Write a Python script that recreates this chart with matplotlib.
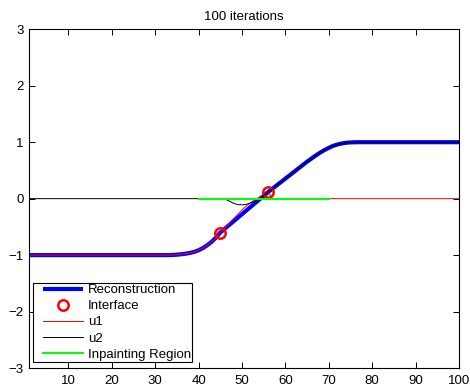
import numpy as np
import matplotlib
matplotlib.use("Agg")
import matplotlib.pyplot as plt
from matplotlib.lines import Line2D
from matplotlib.legend_handler import HandlerLine2D

plt.rcParams['font.family'] = ['Liberation Sans', 'DejaVu Sans']

# grid positions 1..100
x = np.arange(1, 101)

# reconstruction after 100 iterations
recon = np.array(
    [-1.0] * 33 +
    [-0.997, -0.993, -0.985, -0.975, -0.962, -0.943, -0.915, -0.875, -0.825,
     -0.765, -0.69, -0.6, -0.535, -0.47, -0.405, -0.34, -0.275, -0.21, -0.145,
     -0.08, -0.015, 0.05, 0.115, 0.175, 0.235, 0.295, 0.355, 0.415, 0.475,
     0.535, 0.595, 0.655, 0.71, 0.765, 0.815, 0.86, 0.9, 0.935, 0.96, 0.978,
     0.99, 0.996, 0.999] +
    [1.0] * 24
)

# left-side solution u1 (zero to the right of the interface)
u1 = np.concatenate([
    recon[:44],
    [-0.6, -0.52, -0.44, -0.36, -0.28, -0.2, -0.13, -0.07, -0.02, 0.025, 0.07, 0.115],
    np.zeros(44),
])

# right-side solution u2 (zero to the left of the interface)
u2 = np.concatenate([
    np.zeros(46),
    [-0.04, -0.08, -0.105, -0.11, -0.1, -0.075, -0.04, -0.01, 0.05],
    recon[55:],
])

# interface points
iface_x = [45, 56]
iface_y = [-0.6, 0.115]

# inpainting region
region_x = [40, 70]
region_y = [0, 0]

xticks = list(range(10, 101, 10))
yticks = list(range(-3, 4))

FS = 9.5

fig = plt.figure(figsize=(4.70, 3.86), dpi=100)
ax = fig.add_axes([0.0623, 0.0466, 0.9143, 0.8775])

ax.plot(x, recon, color=(0, 0, 1), lw=3.0, label='Reconstruction', solid_capstyle='butt')
ax.plot(iface_x, iface_y, 'o', ls='none', mfc='none', mec=(1, 0, 0), ms=7.5, mew=1.8,
        label='Interface')
ax.plot(x, u1, color=(1, 0, 0), lw=0.7, label='u1')
ax.plot(x, u2, color='black', lw=0.7, label='u2')
ax.plot(region_x, region_y, color=(0, 1, 0), lw=1.5, label='Inpainting Region')

ax.set_xlim(1, 100)
ax.set_ylim(-3, 3)
ax.set_xticks(xticks)
ax.set_yticks(yticks)
ax.set_yticklabels([f'\u2212{abs(t)}' if t < 0 else str(t) for t in yticks])
ax.tick_params(direction='in', length=4, width=0.7, top=True, right=True,
               labelsize=FS)
ax.tick_params(axis='y', pad=4)
ax.tick_params(axis='x', pad=5)
for s in ax.spines.values():
    s.set_linewidth(0.8)

ax.set_title('100 iterations', fontsize=FS, pad=7)

leg = ax.legend(loc='lower left', bbox_to_anchor=(0.0086, 0.018), fontsize=FS,
                frameon=True, fancybox=False, edgecolor='black', framealpha=1,
                handlelength=3.69, handletextpad=0.38, borderpad=0.1,
                labelspacing=0.29, borderaxespad=0,
                handler_map={Line2D: HandlerLine2D(xpad=0.66)})
leg.get_frame().set_linewidth(0.8)

fig.savefig('out.png', dpi=100)
